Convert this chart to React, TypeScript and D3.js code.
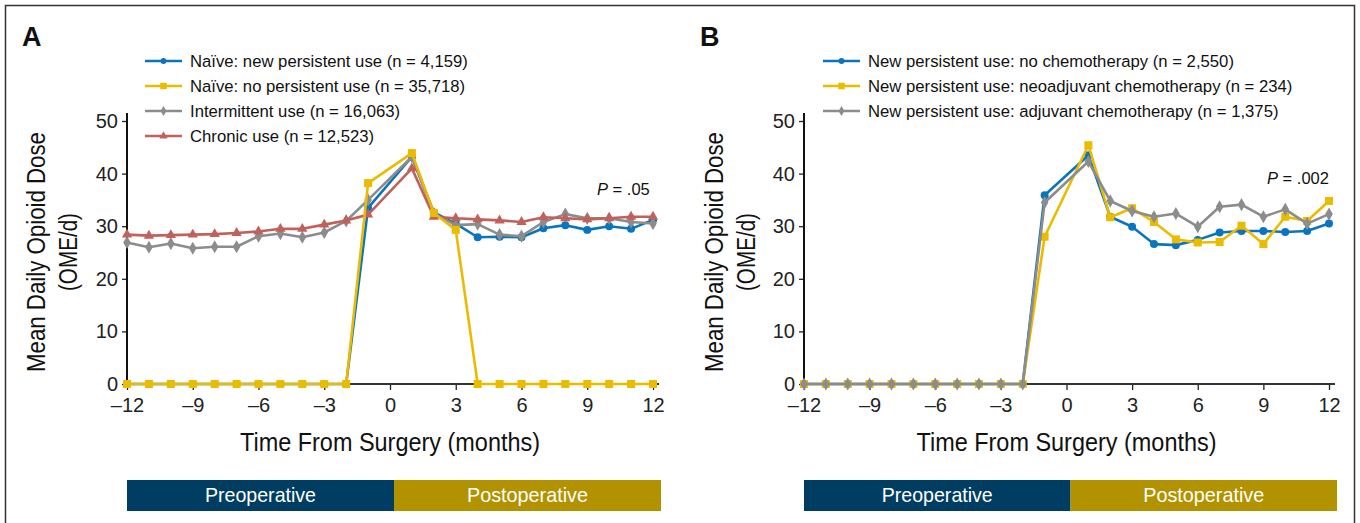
import React, { useEffect, useRef } from 'react';
import * as d3 from 'd3';

const months = [-12, -11, -10, -9, -8, -7, -6, -5, -4, -3, -2, -1, 1, 2, 3, 4, 5, 6, 7, 8, 9, 10, 11, 12];
const xTicks = [-12, -9, -6, -3, 0, 3, 6, 9, 12];
const yTicks = [0, 10, 20, 30, 40, 50];

// panel A
const naiveNewPersistent = [0, 0, 0, 0, 0, 0, 0, 0, 0, 0, 0, 33.5, 43.2, 32.6, 30.5, 27.9, 28.0, 27.9, 29.6, 30.2, 29.3, 30.0, 29.5, 31.2];
const naiveNoPersistent = [0, 0, 0, 0, 0, 0, 0, 0, 0, 0, 0, 38.2, 43.9, 32.5, 29.3, 0, 0, 0, 0, 0, 0, 0, 0, 0];
const intermittentUse = [26.9, 26.0, 26.7, 25.8, 26.1, 26.1, 28.1, 28.6, 27.9, 28.8, 31.0, 35.0, 43.2, 32.4, 30.2, 30.4, 28.4, 28.1, 30.8, 32.3, 31.5, 31.5, 30.8, 30.5];
const chronicUse = [28.4, 28.2, 28.3, 28.4, 28.5, 28.7, 29.0, 29.5, 29.5, 30.3, 31.1, 32.2, 41.0, 31.8, 31.5, 31.3, 31.1, 30.8, 31.7, 31.5, 31.3, 31.5, 31.8, 31.8];

// panel B
const noChemo = [0, 0, 0, 0, 0, 0, 0, 0, 0, 0, 0, 35.9, 43.5, 31.8, 29.9, 26.6, 26.4, 27.4, 28.8, 29.1, 29.1, 28.9, 29.1, 30.5];
const neoadjuvantChemo = [0, 0, 0, 0, 0, 0, 0, 0, 0, 0, 0, 28.0, 45.4, 31.7, 33.4, 30.8, 27.5, 26.9, 27.0, 30.1, 26.6, 31.8, 31.0, 34.8];
const adjuvantChemo = [0, 0, 0, 0, 0, 0, 0, 0, 0, 0, 0, 34.5, 42.3, 34.8, 32.9, 31.8, 32.4, 29.9, 33.7, 34.1, 31.8, 33.2, 30.5, 32.3];

const BLUE = '#0a75bf';
const YELLOW = '#ebbb00';
const GRAY = '#8c8c8c';
const RED = '#c0615b';

const NARROW = "'Liberation Sans Narrow', 'Arial Narrow', 'Liberation Sans', sans-serif";
const SANS = "'Liberation Sans', Arial, Helvetica, sans-serif";

const panels = [
  {
    letter: 'A',
    left: 0,
    xRange: [127, 653],
    pLabel: '.05',
    pX: 597,
    pY: 195,
    legendX: 145,
    // legend order, draw order given separately
    series: [
      { label: 'Naïve: new persistent use (n = 4,159)', values: naiveNewPersistent, color: BLUE, symbol: d3.symbolCircle, size: 50, legendSize: 26 },
      { label: 'Naïve: no persistent use (n = 35,718)', values: naiveNoPersistent, color: YELLOW, symbol: d3.symbolSquare, size: 64, legendSize: 42 },
      { label: 'Intermittent use (n = 16,063)', values: intermittentUse, color: GRAY, symbol: d3.symbolDiamond, size: 50, legendSize: 30 },
      { label: 'Chronic use (n = 12,523)', values: chronicUse, color: RED, symbol: d3.symbolTriangle, size: 46, legendSize: 30 },
    ],
    drawOrder: [0, 2, 3, 1],
  },
  {
    letter: 'B',
    left: 678,
    xRange: [804, 1329],
    pLabel: '.002',
    pX: 1267,
    pY: 184,
    legendX: 823,
    series: [
      { label: 'New persistent use: no chemotherapy (n = 2,550)', values: noChemo, color: BLUE, symbol: d3.symbolCircle, size: 50, legendSize: 26 },
      { label: 'New persistent use: neoadjuvant chemotherapy (n = 234)', values: neoadjuvantChemo, color: YELLOW, symbol: d3.symbolSquare, size: 64, legendSize: 42 },
      { label: 'New persistent use: adjuvant chemotherapy (n = 1,375)', values: adjuvantChemo, color: GRAY, symbol: d3.symbolDiamond, size: 50, legendSize: 30 },
    ],
    drawOrder: [0, 1, 2],
  },
];

const fmtTick = (d: number) => (d < 0 ? `\u2013${-d}` : `${d}`);

const App = () => {
  const svgRef = useRef<SVGSVGElement>(null);

  useEffect(() => {
    const svg = d3.select(svgRef.current);
    svg.selectAll('*').remove();

    svg.append('rect')
      .attr('width', 1360)
      .attr('height', 523)
      .attr('fill', '#fff');

    // outer frame
    svg.append('rect')
      .attr('x', 5.5)
      .attr('y', 5.5)
      .attr('width', 1349)
      .attr('height', 530)
      .attr('fill', 'none')
      .attr('stroke', '#333')
      .attr('stroke-width', 1.5);

    const y = d3.scaleLinear().domain([0, 50]).range([384, 121]);

    panels.forEach(p => {
      const g = svg.append('g');
      const x = d3.scaleLinear().domain([-12, 12]).range(p.xRange);
      const x0 = p.xRange[0];
      const x1 = p.xRange[1];

      g.append('text')
        .attr('x', p.left + 22)
        .attr('y', 46)
        .style('font-family', SANS)
        .style('font-weight', 'bold')
        .style('font-size', '27px')
        .attr('fill', '#111')
        .text(p.letter);

      // y axis
      const yAxis = g.append('g')
        .attr('transform', `translate(${x0},0)`)
        .call(d3.axisLeft(y).tickValues(yTicks).tickSize(5).tickSizeOuter(0).tickPadding(4));
      yAxis.select('.domain').remove();
      yAxis.selectAll('.tick line').attr('stroke', '#222').attr('stroke-width', 1.3);
      yAxis.selectAll('.tick text')
        .style('font-family', NARROW)
        .style('font-size', '20px')
        .attr('fill', '#222');
      g.append('line')
        .attr('x1', x0).attr('x2', x0)
        .attr('y1', y(0)).attr('y2', 113)
        .attr('stroke', '#111').attr('stroke-width', 2);

      // x axis
      const xAxis = g.append('g')
        .attr('transform', `translate(0,${y(0)})`)
        .call(d3.axisBottom(x).tickValues(xTicks).tickSize(6).tickSizeOuter(0).tickPadding(8).tickFormat(fmtTick as any));
      xAxis.select('.domain').remove();
      xAxis.selectAll('.tick line').attr('stroke', '#222').attr('stroke-width', 1.3);
      xAxis.selectAll('.tick text')
        .style('font-family', NARROW)
        .style('font-size', '20px')
        .attr('fill', '#222');
      g.append('line')
        .attr('x1', x0).attr('x2', x1 + 6)
        .attr('y1', y(0)).attr('y2', y(0))
        .attr('stroke', '#333').attr('stroke-width', 2);

      // axis titles (condensed look via textLength)
      const yTitle = g.append('text')
        .attr('transform', `translate(${p.left + 45},252) rotate(-90)`)
        .attr('text-anchor', 'middle')
        .style('font-family', NARROW)
        .style('font-size', '26px')
        .attr('fill', '#111');
      yTitle.append('tspan').attr('x', 0).attr('dy', 0)
        .attr('textLength', 240).attr('lengthAdjust', 'spacingAndGlyphs')
        .text('Mean Daily Opioid Dose');
      yTitle.append('tspan').attr('x', 0).attr('dy', 32)
        .attr('textLength', 78).attr('lengthAdjust', 'spacingAndGlyphs')
        .text('(OME/d)');

      g.append('text')
        .attr('x', (x0 + x1) / 2)
        .attr('y', 451)
        .attr('text-anchor', 'middle')
        .attr('textLength', 300)
        .attr('lengthAdjust', 'spacingAndGlyphs')
        .style('font-family', NARROW)
        .style('font-size', '26px')
        .attr('fill', '#111')
        .text('Time From Surgery (months)');

      // period bars
      const barEnd = x1 + 8;
      const mid = (x0 + barEnd) / 2;
      const periods = [
        { label: 'Preoperative', from: x0, to: mid, color: '#003d62', w: 111 },
        { label: 'Postoperative', from: mid, to: barEnd, color: '#b39200', w: 121 },
      ];
      periods.forEach(b => {
        g.append('rect')
          .attr('x', b.from)
          .attr('y', 480)
          .attr('width', b.to - b.from)
          .attr('height', 31)
          .attr('fill', b.color);
        g.append('text')
          .attr('x', (b.from + b.to) / 2)
          .attr('y', 502)
          .attr('text-anchor', 'middle')
          .attr('textLength', b.w)
          .attr('lengthAdjust', 'spacingAndGlyphs')
          .style('font-family', NARROW)
          .style('font-size', '21px')
          .attr('fill', '#fff')
          .text(b.label);
      });

      // lines
      const line = d3.line<number>()
        .x((d, i) => x(months[i]))
        .y(d => y(d));

      p.drawOrder.forEach(si => {
        const s = p.series[si];
        const sg = g.append('g');
        sg.append('path')
          .attr('d', line(s.values))
          .attr('fill', 'none')
          .attr('stroke', s.color)
          .attr('stroke-width', 2.6)
          .attr('stroke-linejoin', 'round');
        sg.selectAll('path.pt')
          .data(s.values)
          .enter()
          .append('path')
          .attr('class', 'pt')
          .attr('d', d3.symbol().type(s.symbol).size(s.size)())
          .attr('transform', (d, i) => `translate(${x(months[i])},${y(d)})`)
          .attr('fill', s.color);
      });

      // p value
      const pt = g.append('text')
        .attr('x', p.pX)
        .attr('y', p.pY)
        .style('font-family', SANS)
        .style('font-size', '16.5px')
        .attr('fill', '#111');
      pt.append('tspan').style('font-style', 'italic').text('P');
      pt.append('tspan').text(` = ${p.pLabel}`);

      // legend
      const legend = g.append('g')
        .attr('transform', `translate(${p.legendX},61)`);
      const items = legend.selectAll('.legend-item')
        .data(p.series)
        .enter()
        .append('g')
        .attr('class', 'legend-item')
        .attr('transform', (d, i) => `translate(0,${i * 25})`);
      items.append('line')
        .attr('x1', 0).attr('x2', 37)
        .attr('y1', 0).attr('y2', 0)
        .attr('stroke', d => d.color)
        .attr('stroke-width', 2.4);
      items.append('path')
        .attr('d', d => d3.symbol().type(d.symbol).size(d.legendSize)())
        .attr('transform', 'translate(18.5,0)')
        .attr('fill', d => d.color);
      items.append('text')
        .attr('x', 45)
        .attr('y', 0)
        .attr('dy', '0.35em')
        .style('font-family', SANS)
        .style('font-size', '16.7px')
        .attr('fill', '#111')
        .text(d => d.label);
    });
  }, []);

  return (
    <div style={{ position: 'absolute', left: 0, top: 0, width: 1360, height: 523, overflow: 'hidden' }}>
      <svg ref={svgRef} width={1360} height={523} style={{ display: 'block' }}></svg>
    </div>
  );
};

export default App;
